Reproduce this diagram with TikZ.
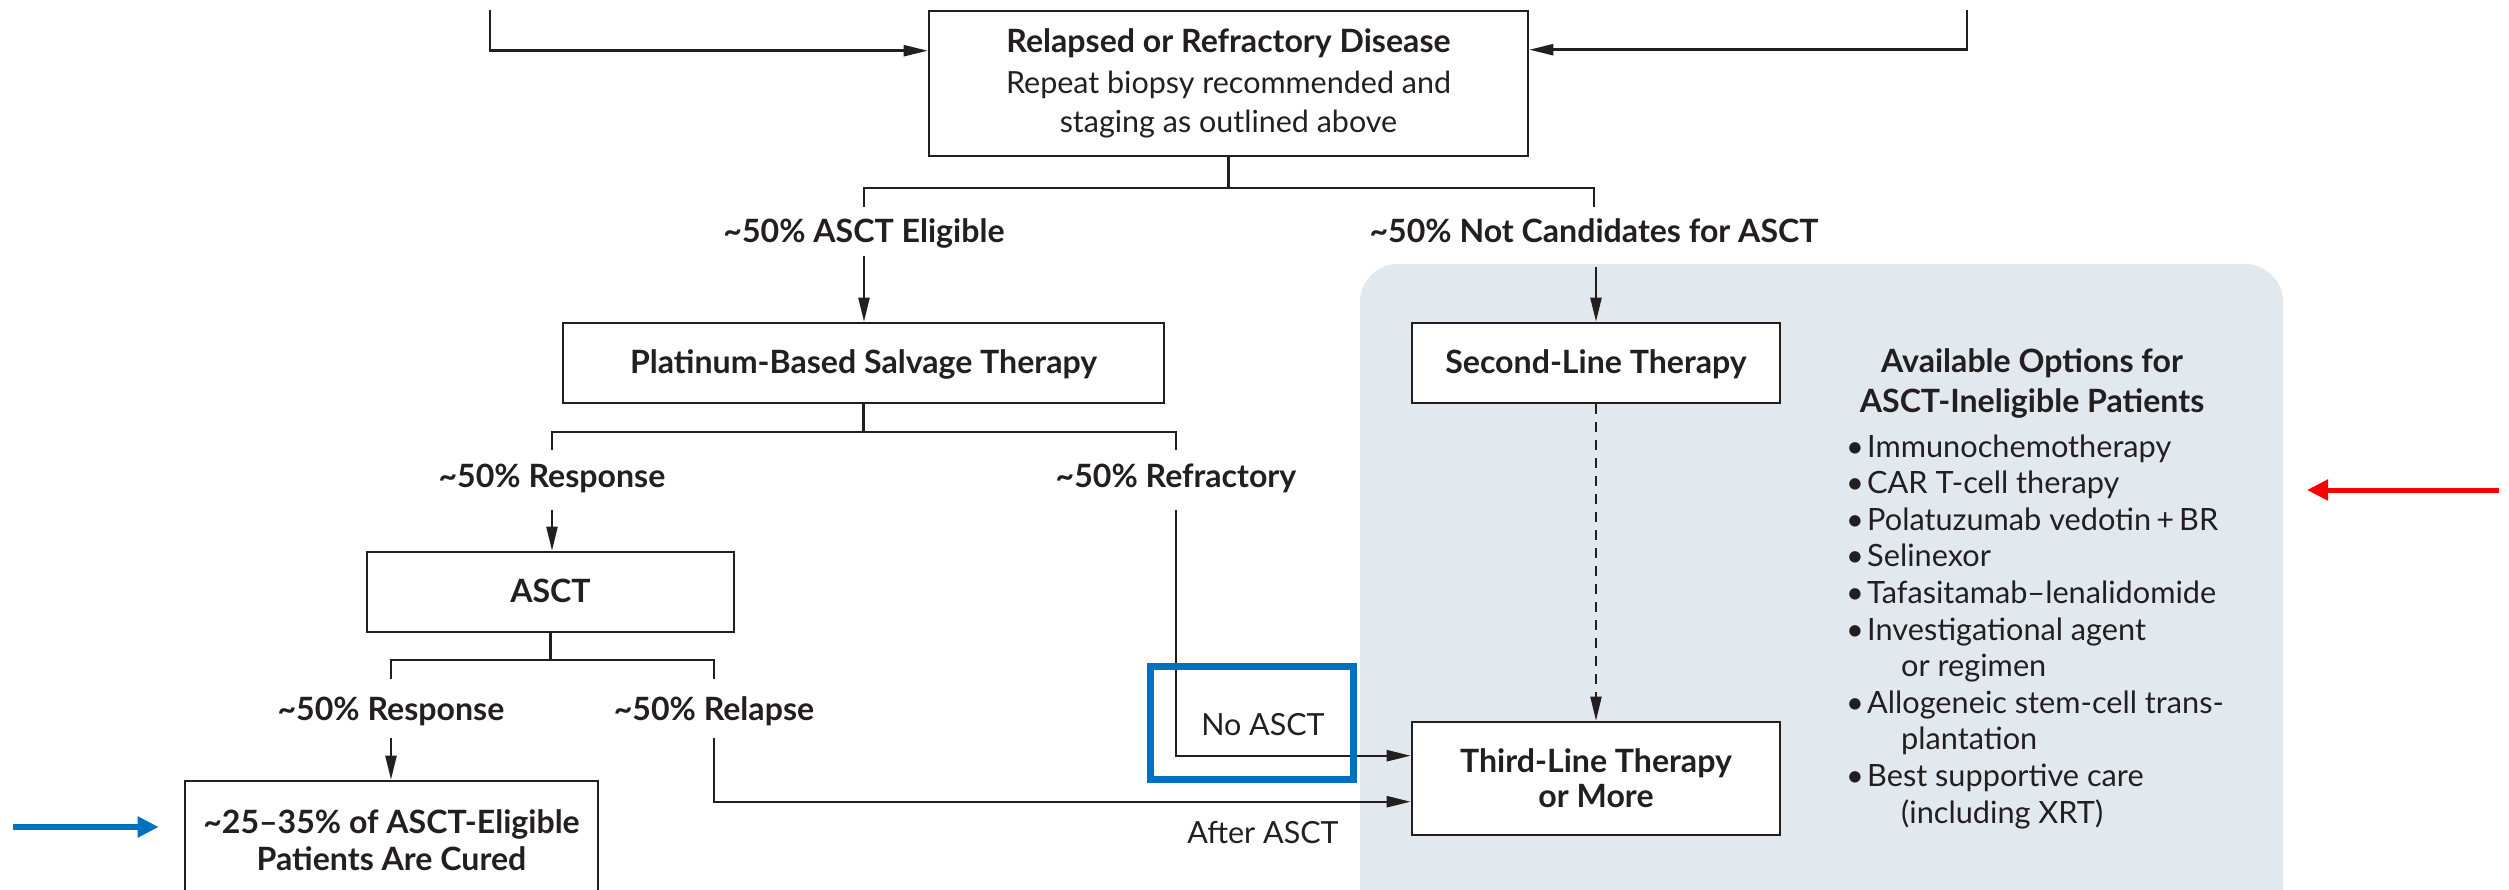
\documentclass[tikz,border=0pt]{standalone}
\usepackage{fontspec}
\setmainfont{Lato}
\usetikzlibrary{arrows.meta}

\definecolor{ink}{RGB}{35,31,32}
\definecolor{panelfill}{RGB}{225,233,239}
\definecolor{markblue}{RGB}{0,112,192}
\definecolor{markred}{RGB}{255,0,0}

\newlength{\probewd}
% type sizes are set from the width of one sample line of each kind
\newcommand{\dgbold}{\fontsize{\boldsize}{36}\selectfont\bfseries}
\newcommand{\dgboldskip}[1]{\fontsize{\boldsize}{#1}\selectfont\bfseries}
\newcommand{\dgreg}{\fontsize{\regsize}{39}\selectfont}
\newcommand{\dglist}{\fontsize{\listsize}{36.6}\selectfont}

\begin{document}
\settowidth{\probewd}{\normalfont\fontsize{10}{12}\selectfont\bfseries Platinum-Based Salvage Therapy}%
\pgfmathsetmacro{\boldsize}{10*467/\probewd}%
\settowidth{\probewd}{\normalfont\fontsize{10}{12}\selectfont Repeat biopsy recommended and}%
\pgfmathsetmacro{\regsize}{10*445/\probewd}%
\settowidth{\probewd}{\normalfont\fontsize{10}{12}\selectfont Immunochemotherapy}%
\pgfmathsetmacro{\listsize}{10*304/\probewd}%
\begin{tikzpicture}[x=1pt,y=-1pt,
  box/.style={draw=ink, line width=2.6pt, fill=white, inner sep=0pt, align=center,
              font=\dgbold, text=ink, text height=21pt, text depth=0pt},
  frame/.style={draw=ink, line width=2.6pt, fill=white, inner sep=0pt},
  btext/.style={inner sep=0pt, anchor=base, align=center, text=ink, font=\dgbold},
  rtext/.style={inner sep=0pt, anchor=base, align=center, text=ink, font=\dgreg},
  item/.style={inner sep=0pt, anchor=base west, text=ink, font=\dglist},
  conn/.style={draw=ink, line width=2.4pt},
  arr/.style={conn, -{Triangle[length=24pt,width=11pt]}},
  darr/.style={draw=ink, line width=2pt, dash pattern=on 10pt off 8pt,
               -{Triangle[length=24pt,width=11pt]}}]

\useasboundingbox (0,0) rectangle (2509,890);
\clip (0,0) rectangle (2509,890);

% shaded panel for the ASCT-ineligible branch
\fill[panelfill, rounded corners=38pt] (1360,264) rectangle (2283,980);

% ---------------- boxes ----------------
\node[frame, minimum width=599pt, minimum height=145pt] (rr) at (1228.5,83.5) {};
\node[rtext] (rrtext) at (1228.5,133)
  {{\dgbold Relapsed or Refractory Disease}\\[2pt]Repeat biopsy recommended and\\staging as outlined above};

\node[box, minimum width=601pt, minimum height=80pt] (plat) at (863.5,363) {Platinum-Based Salvage Therapy};
\node[box, minimum width=367pt, minimum height=80pt] (asct) at (550.5,592) {ASCT};
\node[frame, minimum width=413pt, minimum height=130pt] (cured) at (391.5,846) {};
\node[btext, font={\dgboldskip{37}}] (curedtext) at (391.5,870)
  {\textasciitilde 25--35\% of ASCT-Eligible\\Patients Are Cured};

\node[box, minimum width=368pt, minimum height=80pt] (second) at (1596,363) {Second-Line Therapy};
\node[frame, minimum width=368pt, minimum height=113pt] (third) at (1596,778.5) {};
\node[btext, font={\dgboldskip{35}}] (thirdtext) at (1596,807)
  {Third-Line Therapy\\or More};

% ---------------- branch labels ----------------
\node[btext] (elig)    at (864,243)  {\textasciitilde 50\% ASCT Eligible};
\node[btext] (noncand) at (1594,243) {\textasciitilde 50\% Not Candidates for ASCT};
\node[btext] (resp1)   at (552,487)  {\textasciitilde 50\% Response};
\node[btext] (refr)    at (1176,487) {\textasciitilde 50\% Refractory};
\node[btext] (resp2)   at (391,720)  {\textasciitilde 50\% Response};
\node[btext] (relapse) at (714,720)  {\textasciitilde 50\% Relapse};
\node[rtext] (noasct)  at (1263,735) {No ASCT};
\node[rtext] (after)   at (1263,843) {After ASCT};

% ---------------- options list ----------------
\node[btext, font={\dgboldskip{40}}] (opthead) at (2032,413)
  {Available Options for\\ASCT-Ineligible Patients};
\node[item] (o1)  at (1846,457)   {\makebox[21pt][l]{\textbullet}Immunochemotherapy};
\node[item] (o2)  at (1846,493.6) {\makebox[21pt][l]{\textbullet}CAR T-cell therapy};
\node[item] (o3)  at (1846,530.2) {\makebox[21pt][l]{\textbullet}Polatuzumab vedotin\,+\,BR};
\node[item] (o4)  at (1846,566.8) {\makebox[21pt][l]{\textbullet}Selinexor};
\node[item] (o5)  at (1846,603.4) {\makebox[21pt][l]{\textbullet}Tafasitamab--lenalidomide};
\node[item] (o6)  at (1846,640)   {\makebox[21pt][l]{\textbullet}Investigational agent};
\node[item] (o6b) at (1901,676.6) {or regimen};
\node[item] (o7)  at (1846,713.2) {\makebox[21pt][l]{\textbullet}Allogeneic stem-cell trans-};
\node[item] (o7b) at (1901,749.8) {plantation};
\node[item] (o8)  at (1846,786.4) {\makebox[21pt][l]{\textbullet}Best supportive care};
\node[item] (o8b) at (1901,823)   {(including XRT)};

% ---------------- free ends of connectors ----------------
\coordinate (feedL) at (490,10);
\coordinate (feedR) at (1967,10);
\coordinate (split1) at (1228.5,188);
\coordinate (eligTop) at (864,207);
\coordinate (noncTop) at (1594,207);
\coordinate (eligBot) at (864,256);
\coordinate (noncBot) at (1596,267);
\coordinate (split2) at (863.5,432);
\coordinate (resp1Top) at (552,450);
\coordinate (refrTop) at (1176,450);
\coordinate (resp1Bot) at (552,510);
\coordinate (refrBot) at (1176,510);
\coordinate (split3) at (550.5,660);
\coordinate (resp2Top) at (391,679);
\coordinate (relTop) at (714,679);
\coordinate (resp2Bot) at (391,738);
\coordinate (relBot) at (714,738);

% ---------------- connectors ----------------
\draw[arr] (feedL) |- ([yshift=-41pt]rr.north west);
\draw[arr] (feedR) |- ([yshift=-40pt]rr.north east);

\draw[conn] (rr.south) -- (split1);
\draw[conn] (eligTop) |- (split1) -| (noncTop);
\draw[arr] (eligBot) -- (eligBot |- plat.north);
\draw[arr] (noncBot) -- (second.north);

\draw[conn] (plat.south) -- (split2);
\draw[conn] (resp1Top) |- (split2) -| (refrTop);
\draw[arr] (resp1Bot) -- (resp1Bot |- asct.north);

\draw[conn] (asct.south) -- (split3);
\draw[conn] (resp2Top) |- (split3) -| (relTop);
\draw[arr] (resp2Bot) -- (resp2Bot |- cured.north);

\draw[arr] (refrBot) |- ([yshift=-35pt]third.north west);
\draw[arr] (relBot) |- ([yshift=-81pt]third.north west);

\draw[darr] (second.south) -- (third.north);

% ---------------- highlight marks ----------------
\node[draw=markblue, line width=7pt, minimum width=203pt, minimum height=113pt, inner sep=0pt]
  (hl) at (1252,723) {};
\coordinate (blueStart) at (13,827);
\coordinate (redStart) at (2499,490);
\draw[markblue, line width=6pt, -{Triangle[length=21pt,width=20pt]}]
  (blueStart) -- ([xshift=-25pt]cured.west |- blueStart);
\draw[markred, line width=5pt, -{Triangle[length=21pt,width=20pt]}]
  (redStart) -- ++(-192,0);

\end{tikzpicture}
\end{document}
